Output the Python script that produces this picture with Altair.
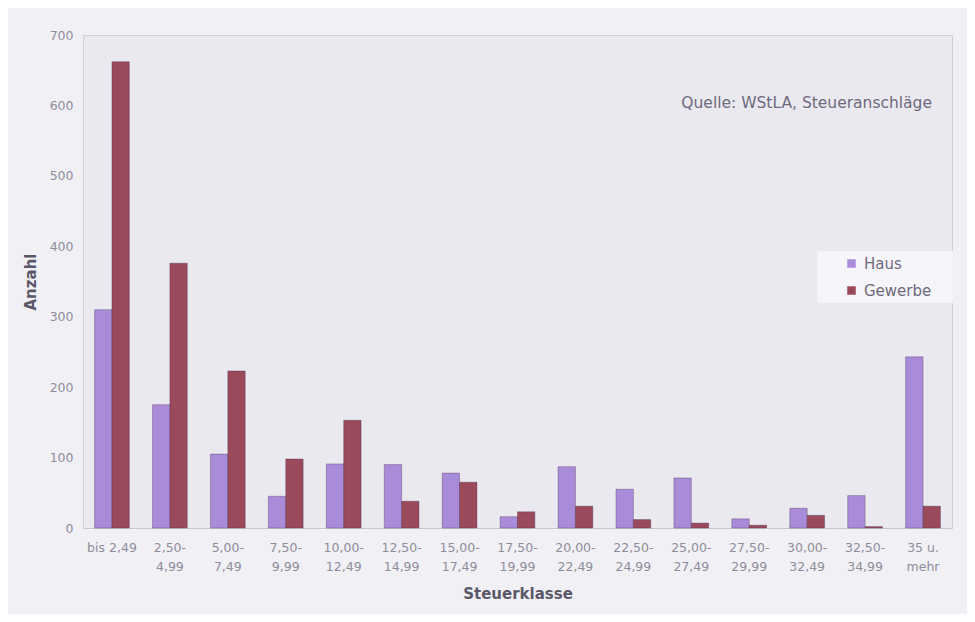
import altair as alt
import pandas as pd

categories = ["bis 2,49", "2,50-4,99", "5,00-7,49", "7,50-9,99", "10,00-12,49",
              "12,50-14,99", "15,00-17,49", "17,50-19,99", "20,00-22,49",
              "22,50-24,99", "25,00-27,49", "27,50-29,99", "30,00-32,49",
              "32,50-34,99", "35 u. mehr"]
haus = [310, 175, 105, 45, 91, 90, 78, 16, 87, 55, 71, 13, 28, 46, 243]
gewerbe = [662, 376, 223, 98, 153, 38, 65, 23, 31, 12, 7, 4, 18, 2, 31]
series = ["Haus", "Gewerbe"]
colors = ["#a98cd9", "#9a4a5a"]
y_ticks = [0, 100, 200, 300, 400, 500, 600, 700]

rows = []
for c, h, g in zip(categories, haus, gewerbe):
    rows.append({"Steuerklasse": c, "Serie": "Haus", "Anzahl": h})
    rows.append({"Steuerklasse": c, "Serie": "Gewerbe", "Anzahl": g})
df = pd.DataFrame(rows)

label_expr = ("indexof(datum.value, '-') > 0 ? "
              "[substring(datum.value, 0, indexof(datum.value, '-') + 1), "
              "substring(datum.value, indexof(datum.value, '-') + 1)] : "
              "(datum.value == '35 u. mehr' ? ['35 u.', 'mehr'] : datum.value)")

FONT = "DejaVu Sans"
LABEL_GRAY = "#8f8d9b"
TEXT_GRAY = "#6e6a7c"

legend_bg = alt.Chart(pd.DataFrame({"k": [0]})).mark_rect(
    fill="#f6f5f9", stroke="#ebeaf0", strokeWidth=0.5
).encode(x=alt.value(734), x2=alt.value(870), y=alt.value(216), y2=alt.value(268))

bars = alt.Chart(df).mark_bar(stroke="#4a3050", strokeWidth=0.6, strokeOpacity=0.6).encode(
    x=alt.X("Steuerklasse:N", sort=categories,
            scale=alt.Scale(paddingInner=0.4, paddingOuter=0.2),
            axis=alt.Axis(title="Steuerklasse", labelAngle=0, labelExpr=label_expr,
                          labelFont=FONT, labelFontSize=12.5, labelColor=LABEL_GRAY,
                          labelPadding=13, labelLineHeight=19, ticks=False,
                          domainColor="#c8c6d0", titleFont=FONT, titleFontSize=15,
                          titleFontWeight="bold", titleColor="#5a5868",
                          titlePadding=14)),
    xOffset=alt.XOffset("Serie:N", sort=series,
                        scale=alt.Scale(paddingInner=0, paddingOuter=0)),
    y=alt.Y("Anzahl:Q", scale=alt.Scale(domain=[0, 700], nice=False),
            axis=alt.Axis(title="Anzahl", values=y_ticks, grid=False, ticks=False,
                          domain=False, labelFont=FONT, labelFontSize=12.5,
                          labelColor=LABEL_GRAY, labelPadding=10,
                          titleFont=FONT, titleFontSize=15, titleFontWeight="bold",
                          titleColor="#5a5868", titlePadding=11)),
    color=alt.Color("Serie:N", sort=series,
                    scale=alt.Scale(domain=series, range=colors),
                    legend=alt.Legend(title=None, orient="none", legendX=761, legendY=221,
                                      symbolType="square", symbolSize=72,
                                      symbolStrokeWidth=0, labelFont=FONT,
                                      labelFontSize=15, labelColor=TEXT_GRAY,
                                      padding=0, rowPadding=11, labelOffset=5)),
)

source = alt.Chart(pd.DataFrame({"t": ["Quelle: WStLA, Steueranschläge"]})).mark_text(
    align="right", baseline="middle", font=FONT, fontSize=15.5, color=TEXT_GRAY
).encode(text="t:N", x=alt.value(849), y=alt.value(68))

chart = alt.layer(legend_bg, bars, source).properties(
    width=869, height=493,
    autosize=alt.AutoSizeParams(type="none"),
    padding={"left": 75, "top": 27, "right": 15, "bottom": 86},
    background="#f1f0f5",
).configure_view(fill="#eae9f0", stroke="#cfcdd8", strokeWidth=1)

chart.save("out.html", embed_options={"renderer": "svg", "actions": False})
